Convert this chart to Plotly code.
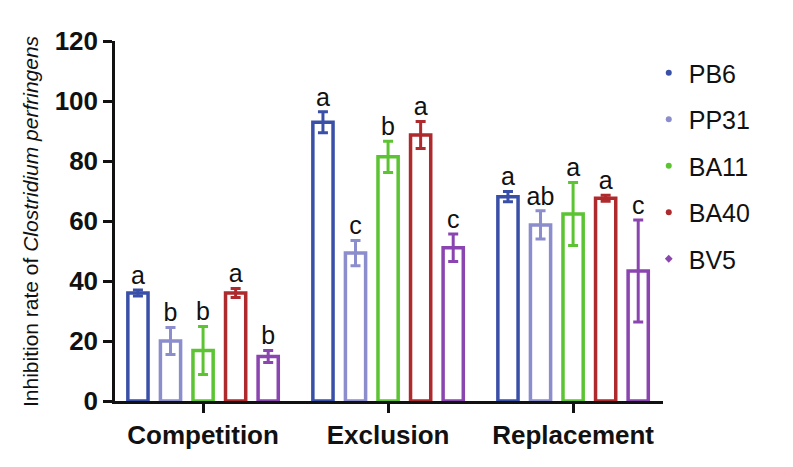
import plotly.graph_objects as go

categories = ["Competition", "Exclusion", "Replacement"]
series = ["PB6", "PP31", "BA11", "BA40", "BV5"]
colors = ["#3A50A8", "#8C8DCC", "#5CC433", "#AE2A2C", "#8B45B0"]
symbols = ["circle", "circle", "circle", "circle", "diamond"]

means = {
    "PB6":  [36.0, 92.9, 68.1],
    "PP31": [20.0, 49.3, 58.7],
    "BA11": [16.8, 81.4, 62.3],
    "BA40": [36.0, 88.7, 67.6],
    "BV5":  [14.8, 51.1, 43.3],
}
errors = {
    "PB6":  [1.0, 3.5, 1.7],
    "PP31": [4.5, 4.2, 4.7],
    "BA11": [8.0, 5.2, 10.5],
    "BA40": [1.5, 4.5, 1.0],
    "BV5":  [2.0, 4.6, 17.0],
}
letters = {
    "PB6":  ["a", "a", "a"],
    "PP31": ["b", "c", "ab"],
    "BA11": ["b", "b", "a"],
    "BA40": ["a", "a", "a"],
    "BV5":  ["b", "c", "c"],
}
y_title = "Inhibition rate of <i>Clostridium perfringens</i>"

FONT = "Arial, Liberation Sans, sans-serif"

fig = go.Figure()
for s, c, sym in zip(series, colors, symbols):
    fig.add_trace(go.Bar(
        x=categories, y=means[s], name=s, offsetgroup=s,
        marker=dict(color="rgba(255,255,255,0)", line=dict(color=c, width=3.5)),
        error_y=dict(type="data", array=errors[s], color=c, thickness=3, width=5),
        showlegend=False,
    ))
for s, c in zip(series, colors):
    tops = [m + e for m, e in zip(means[s], errors[s])]
    fig.add_trace(go.Scatter(
        x=categories, y=tops, mode="text", text=letters[s], offsetgroup=s,
        textposition="top center", textfont=dict(size=25, color="#111", family=FONT),
        showlegend=False, cliponaxis=False,
    ))
for s, c, sym in zip(series, colors, symbols):
    fig.add_trace(go.Scatter(
        x=[None], y=[None], mode="markers", name=s, legendgroup=s,
        marker=dict(color=c, size=6, symbol=sym),
    ))

fig.add_annotation(
    text=y_title, textangle=-90, xref="paper", yref="paper",
    x=-0.155, y=0.5, xanchor="center", yanchor="middle", showarrow=False,
    font=dict(size=21, color="#111", family=FONT),
)

fig.update_layout(
    width=793, height=467,
    margin=dict(l=107, r=138, t=33, b=74),
    paper_bgcolor="white", plot_bgcolor="white",
    barmode="group", scattermode="group",
    bargap=0.12, bargroupgap=0.38,
    font=dict(family=FONT, color="#111"),
    legend=dict(x=0.974, xanchor="left", y=0.975, yanchor="top", xref="paper",
                font=dict(size=25), tracegroupgap=11, itemwidth=30,
                bgcolor="rgba(0,0,0,0)"),
)
fig.update_xaxes(
    range=[-0.476, 2.486], showline=True, linecolor="#111", linewidth=2.5,
    ticks="outside", ticklen=9, tickwidth=2.5, tickcolor="#111",
    tickfont=dict(size=26, weight="bold"),
    showgrid=False, zeroline=False,
)
fig.update_yaxes(
    range=[0, 120], dtick=20, showline=True, linecolor="#111", linewidth=2.5,
    ticks="outside", ticklen=9, tickwidth=2.5, tickcolor="#111",
    tickfont=dict(size=26, weight="bold"),
    showgrid=False, zeroline=False,
)

fig.write_html("out.html")
